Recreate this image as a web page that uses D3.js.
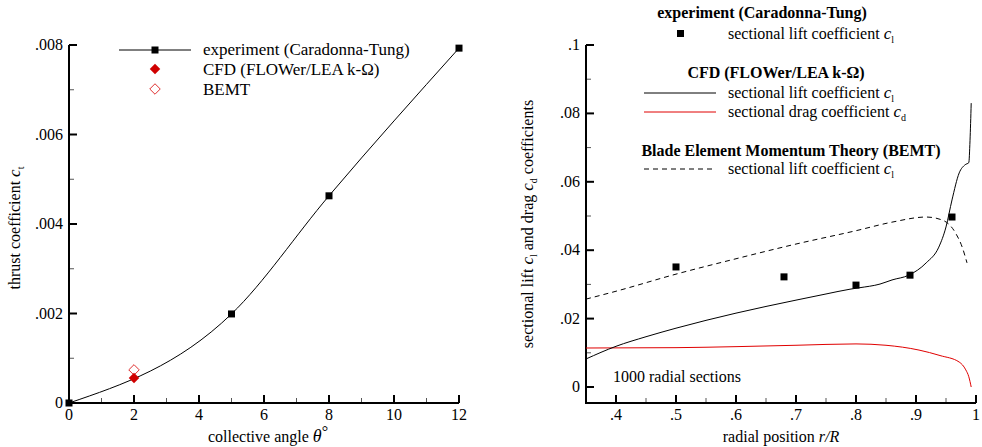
<!DOCTYPE html>
<html>
<head>
<meta charset="utf-8">
<script src="https://cdn.jsdelivr.net/npm/d3@7"></script>
</head>
<body style="margin:0; background:#fff">
<div id="my_dataviz"></div>
<script>
// left panel: thrust vs collective angle
var expAngle = [0, 5, 8, 12]
var expThrust = [0, 0.00199, 0.00463, 0.00793]
var cfdAngle = [2]
var cfdThrust = [0.00056]
var bemtAngle = [2]
var bemtThrust = [0.00074]
var leftXTicks = [0, 2, 4, 6, 8, 10, 12]
var leftYTicks = [0, 0.002, 0.004, 0.006, 0.008]

// right panel: sectional coefficients vs r/R
var expR = [0.5, 0.68, 0.8, 0.89, 0.96]
var expCl = [0.0351, 0.0322, 0.0298, 0.0327, 0.0497]

var cfdR = [0.35, 0.4, 0.45, 0.5, 0.6, 0.7, 0.75, 0.79, 0.805, 0.84, 0.86, 0.888, 0.917, 0.938, 0.95, 0.96, 0.972, 0.982, 0.988, 0.99, 0.992]
var cfdCl = [0.0082, 0.0119, 0.0147, 0.0172, 0.0216, 0.0254, 0.0272, 0.0286, 0.0290, 0.0301, 0.0313, 0.0327, 0.0363, 0.0409, 0.0468, 0.0547, 0.0626, 0.0650, 0.0656, 0.0720, 0.0830]

var cdR = [0.35, 0.5, 0.6, 0.7, 0.8, 0.85, 0.905, 0.94, 0.972, 0.983, 0.988, 0.992]
var cfdCd = [0.0114, 0.0115, 0.0118, 0.0122, 0.0126, 0.0122, 0.0108, 0.0092, 0.0073, 0.0050, 0.0030, 0.0]

var bemtR = [0.35, 0.4, 0.5, 0.6, 0.7, 0.8, 0.86, 0.917, 0.944, 0.966, 0.977, 0.985]
var bemtCl = [0.0257, 0.0280, 0.0330, 0.0375, 0.0418, 0.0457, 0.0482, 0.0497, 0.0488, 0.0450, 0.0409, 0.0363]

var rightXTicks = [0.4, 0.5, 0.6, 0.7, 0.8, 0.9, 1]
var rightYTicks = [0, 0.02, 0.04, 0.06, 0.08, 0.1]

var fmt = function(d) {
    if (d === 0) return "0"
    if (d === 1) return "1"
    return String(+d.toFixed(4)).replace(/^0/, "")
}

var svg = d3.select("#my_dataviz")
    .append("svg")
    .attr("width", 982)
    .attr("height", 447)
    .style("font-family", "'Liberation Serif', 'Times New Roman', serif")

// ---------- left panel ----------
var x1 = d3.scaleLinear().domain([0, 12]).range([69, 459])
var y1 = d3.scaleLinear().domain([0, 0.008]).range([403, 45])

var drawAxes = function(x, y, xTicks, yTicks, xMinor, yMinor) {
    var g = svg.append("g")
    var x0 = x.range()[0], xr = x.range()[1]
    var yb = y(y.domain()[0]), yt = y.range()[1]

    g.selectAll(".xminor").data(xMinor).enter().append("line")
        .attr("x1", function(d) { return x(d) }).attr("x2", function(d) { return x(d) })
        .attr("y1", yb).attr("y2", yb - 5)
        .attr("stroke", "#555").attr("stroke-width", 1)
    g.selectAll(".yminor").data(yMinor).enter().append("line")
        .attr("y1", function(d) { return y(d) }).attr("y2", function(d) { return y(d) })
        .attr("x1", x0).attr("x2", x0 + 5)
        .attr("stroke", "#555").attr("stroke-width", 1)
    g.selectAll(".xmajor").data(xTicks).enter().append("line")
        .attr("x1", function(d) { return x(d) }).attr("x2", function(d) { return x(d) })
        .attr("y1", yb).attr("y2", yb - 8)
        .attr("stroke", "#000").attr("stroke-width", 2)
    g.selectAll(".ymajor").data(yTicks).enter().append("line")
        .attr("y1", function(d) { return y(d) }).attr("y2", function(d) { return y(d) })
        .attr("x1", x0).attr("x2", x0 + 8)
        .attr("stroke", "#000").attr("stroke-width", 2)

    g.append("path")
        .attr("d", "M" + x0 + "," + yt + "V" + yb + "H" + xr)
        .attr("fill", "none").attr("stroke", "#000").attr("stroke-width", 2)

    g.selectAll(".xlab").data(xTicks).enter().append("text")
        .attr("x", function(d) { return x(d) }).attr("y", yb + 17)
        .attr("text-anchor", "middle").attr("font-size", 16)
        .text(fmt)
    g.selectAll(".ylab").data(yTicks).enter().append("text")
        .attr("x", x0 - 6).attr("y", function(d) { return y(d) + 5 })
        .attr("text-anchor", "end").attr("font-size", 16)
        .text(fmt)
}

drawAxes(x1, y1, leftXTicks, leftYTicks, [1, 3, 5, 7, 9, 11], [0.001, 0.003, 0.005, 0.007])

var expData = expAngle.map(function(d, i) { return [d, expThrust[i]] })

svg.append("path")
    .datum(expData)
    .attr("d", d3.line()
        .x(function(d) { return x1(d[0]) })
        .y(function(d) { return y1(d[1]) })
        .curve(d3.curveMonotoneX))
    .attr("fill", "none").attr("stroke", "#000").attr("stroke-width", 1)

svg.append("g").selectAll("rect").data(expData).enter().append("rect")
    .attr("x", function(d) { return x1(d[0]) - 3.5 })
    .attr("y", function(d) { return y1(d[1]) - 3.5 })
    .attr("width", 7).attr("height", 7).attr("fill", "#000")

var diamond = d3.symbol().type(d3.symbolDiamond2).size(70)

svg.append("g").selectAll("path").data(bemtAngle).enter().append("path")
    .attr("d", diamond)
    .attr("transform", function(d, i) { return "translate(" + x1(d) + "," + y1(bemtThrust[i]) + ")" })
    .attr("fill", "none").attr("stroke", "#e03030").attr("stroke-width", 1)

svg.append("g").selectAll("path").data(cfdAngle).enter().append("path")
    .attr("d", diamond)
    .attr("transform", function(d, i) { return "translate(" + x1(d) + "," + y1(cfdThrust[i]) + ")" })
    .attr("fill", "#d00000")

// left legend
var lg = svg.append("g").attr("font-size", 17)
lg.append("line").attr("x1", 119).attr("x2", 191).attr("y1", 50).attr("y2", 50)
    .attr("stroke", "#000").attr("stroke-width", 1)
lg.append("rect").attr("x", 151.5).attr("y", 46.5).attr("width", 7).attr("height", 7)
lg.append("path").attr("d", diamond).attr("transform", "translate(155,69)").attr("fill", "#d00000")
lg.append("path").attr("d", diamond).attr("transform", "translate(155,89)")
    .attr("fill", "none").attr("stroke", "#e03030")
lg.append("text").attr("x", 203).attr("y", 55).text("experiment (Caradonna-Tung)")
lg.append("text").attr("x", 203).attr("y", 75).text("CFD (FLOWer/LEA k-Ω)")
lg.append("text").attr("x", 203).attr("y", 95).text("BEMT")

// left labels
var xl1 = svg.append("text").attr("x", 268).attr("y", 442)
    .attr("text-anchor", "middle").attr("font-size", 16)
xl1.append("tspan").text("collective angle ")
xl1.append("tspan").attr("font-style", "italic").attr("font-size", 18).text("θ")
xl1.append("tspan").attr("dy", -5).attr("font-size", 16).text("°")

var yl1 = svg.append("text")
    .attr("transform", "translate(20,228) rotate(-90)")
    .attr("text-anchor", "middle").attr("font-size", 16)
yl1.append("tspan").text("thrust coefficient ")
yl1.append("tspan").attr("font-style", "italic").attr("font-size", 17).text("c")
yl1.append("tspan").attr("dy", 4).attr("font-size", 10).text("t")

// ---------- right panel ----------
var x2 = d3.scaleLinear().domain([0.35, 1]).range([586, 976])
var y2 = d3.scaleLinear().domain([0, 0.1]).range([387, 45])

var yAxisBottom = 403
// axes (x axis sits a little below zero)
var g2 = svg.append("g")
g2.selectAll(".xminor").data([0.45, 0.55, 0.65, 0.75, 0.85, 0.95]).enter().append("line")
    .attr("x1", function(d) { return x2(d) }).attr("x2", function(d) { return x2(d) })
    .attr("y1", yAxisBottom).attr("y2", yAxisBottom - 5)
    .attr("stroke", "#555").attr("stroke-width", 1)
g2.selectAll(".yminor").data([0.01, 0.03, 0.05, 0.07, 0.09]).enter().append("line")
    .attr("y1", function(d) { return y2(d) }).attr("y2", function(d) { return y2(d) })
    .attr("x1", 586).attr("x2", 591)
    .attr("stroke", "#555").attr("stroke-width", 1)
g2.selectAll(".xmajor").data(rightXTicks).enter().append("line")
    .attr("x1", function(d) { return x2(d) }).attr("x2", function(d) { return x2(d) })
    .attr("y1", yAxisBottom).attr("y2", yAxisBottom - 8)
    .attr("stroke", "#000").attr("stroke-width", 2)
g2.selectAll(".ymajor").data(rightYTicks).enter().append("line")
    .attr("y1", function(d) { return y2(d) }).attr("y2", function(d) { return y2(d) })
    .attr("x1", 586).attr("x2", 594)
    .attr("stroke", "#000").attr("stroke-width", 2)
g2.append("path")
    .attr("d", "M586," + y2(0.1) + "V" + yAxisBottom + "H976")
    .attr("fill", "none").attr("stroke", "#000").attr("stroke-width", 2)
g2.selectAll(".xlab").data(rightXTicks).enter().append("text")
    .attr("x", function(d) { return x2(d) }).attr("y", yAxisBottom + 17)
    .attr("text-anchor", "middle").attr("font-size", 16)
    .text(fmt)
g2.selectAll(".ylab").data(rightYTicks).enter().append("text")
    .attr("x", 580).attr("y", function(d) { return y2(d) + 5 })
    .attr("text-anchor", "end").attr("font-size", 16)
    .text(fmt)

var line2 = d3.line()
    .x(function(d) { return x2(d[0]) })
    .y(function(d) { return y2(d[1]) })
    .curve(d3.curveMonotoneX)

svg.append("path")
    .datum(cdR.map(function(d, i) { return [d, cfdCd[i]] }))
    .attr("d", line2)
    .attr("fill", "none").attr("stroke", "#e00000").attr("stroke-width", 1)

svg.append("path")
    .datum(bemtR.map(function(d, i) { return [d, bemtCl[i]] }))
    .attr("d", line2)
    .attr("fill", "none").attr("stroke", "#000").attr("stroke-width", 1)
    .attr("stroke-dasharray", "5,4")

svg.append("path")
    .datum(cfdR.map(function(d, i) { return [d, cfdCl[i]] }))
    .attr("d", line2)
    .attr("fill", "none").attr("stroke", "#000").attr("stroke-width", 1)

svg.append("g").selectAll("rect").data(expR).enter().append("rect")
    .attr("x", function(d) { return x2(d) - 3.5 })
    .attr("y", function(d, i) { return y2(expCl[i]) - 3.5 })
    .attr("width", 7).attr("height", 7).attr("fill", "#000")

svg.append("text").attr("x", 613).attr("y", 382).attr("font-size", 16)
    .text("1000 radial sections")

// right legend
var rg = svg.append("g").attr("font-size", 16)
var sub = function(sel, x, y, label, s) {
    var t = sel.append("text").attr("x", x).attr("y", y)
    t.append("tspan").text(label + " ")
    t.append("tspan").attr("font-style", "italic").attr("font-size", 17).text("c")
    t.append("tspan").attr("dy", 4).attr("font-size", 10).text(s)
}
rg.append("text").attr("x", 762).attr("y", 18).attr("text-anchor", "middle")
    .attr("font-weight", "bold").text("experiment (Caradonna-Tung)")
rg.append("rect").attr("x", 677).attr("y", 30).attr("width", 7).attr("height", 7)
sub(rg, 728, 39, "sectional lift coefficient", "l")

rg.append("text").attr("x", 776).attr("y", 78).attr("text-anchor", "middle")
    .attr("font-weight", "bold").text("CFD (FLOWer/LEA k-Ω)")
rg.append("line").attr("x1", 644).attr("x2", 716).attr("y1", 93).attr("y2", 93)
    .attr("stroke", "#000")
sub(rg, 728, 98, "sectional lift coefficient", "l")
rg.append("line").attr("x1", 644).attr("x2", 716).attr("y1", 112).attr("y2", 112)
    .attr("stroke", "#e00000")
sub(rg, 728, 117, "sectional drag coefficient", "d")

rg.append("text").attr("x", 791).attr("y", 156).attr("text-anchor", "middle")
    .attr("font-weight", "bold").text("Blade Element Momentum Theory (BEMT)")
rg.append("line").attr("x1", 644).attr("x2", 716).attr("y1", 169).attr("y2", 169)
    .attr("stroke", "#000").attr("stroke-dasharray", "5,4")
sub(rg, 728, 174, "sectional lift coefficient", "l")

// right labels
var xl2 = svg.append("text").attr("x", 781).attr("y", 442)
    .attr("text-anchor", "middle").attr("font-size", 16)
xl2.append("tspan").text("radial position ")
xl2.append("tspan").attr("font-style", "italic").text("r/R")

var yl2 = svg.append("text")
    .attr("transform", "translate(533,224) rotate(-90)")
    .attr("text-anchor", "middle").attr("font-size", 16)
yl2.append("tspan").text("sectional lift ")
yl2.append("tspan").attr("font-style", "italic").attr("font-size", 17).text("c")
yl2.append("tspan").attr("dy", 4).attr("font-size", 10).text("l")
yl2.append("tspan").attr("dy", -4).text(" and drag ")
yl2.append("tspan").attr("font-style", "italic").attr("font-size", 17).text("c")
yl2.append("tspan").attr("dy", 4).attr("font-size", 10).text("d")
yl2.append("tspan").attr("dy", -4).text(" coefficients")
</script>
</body>
</html>
